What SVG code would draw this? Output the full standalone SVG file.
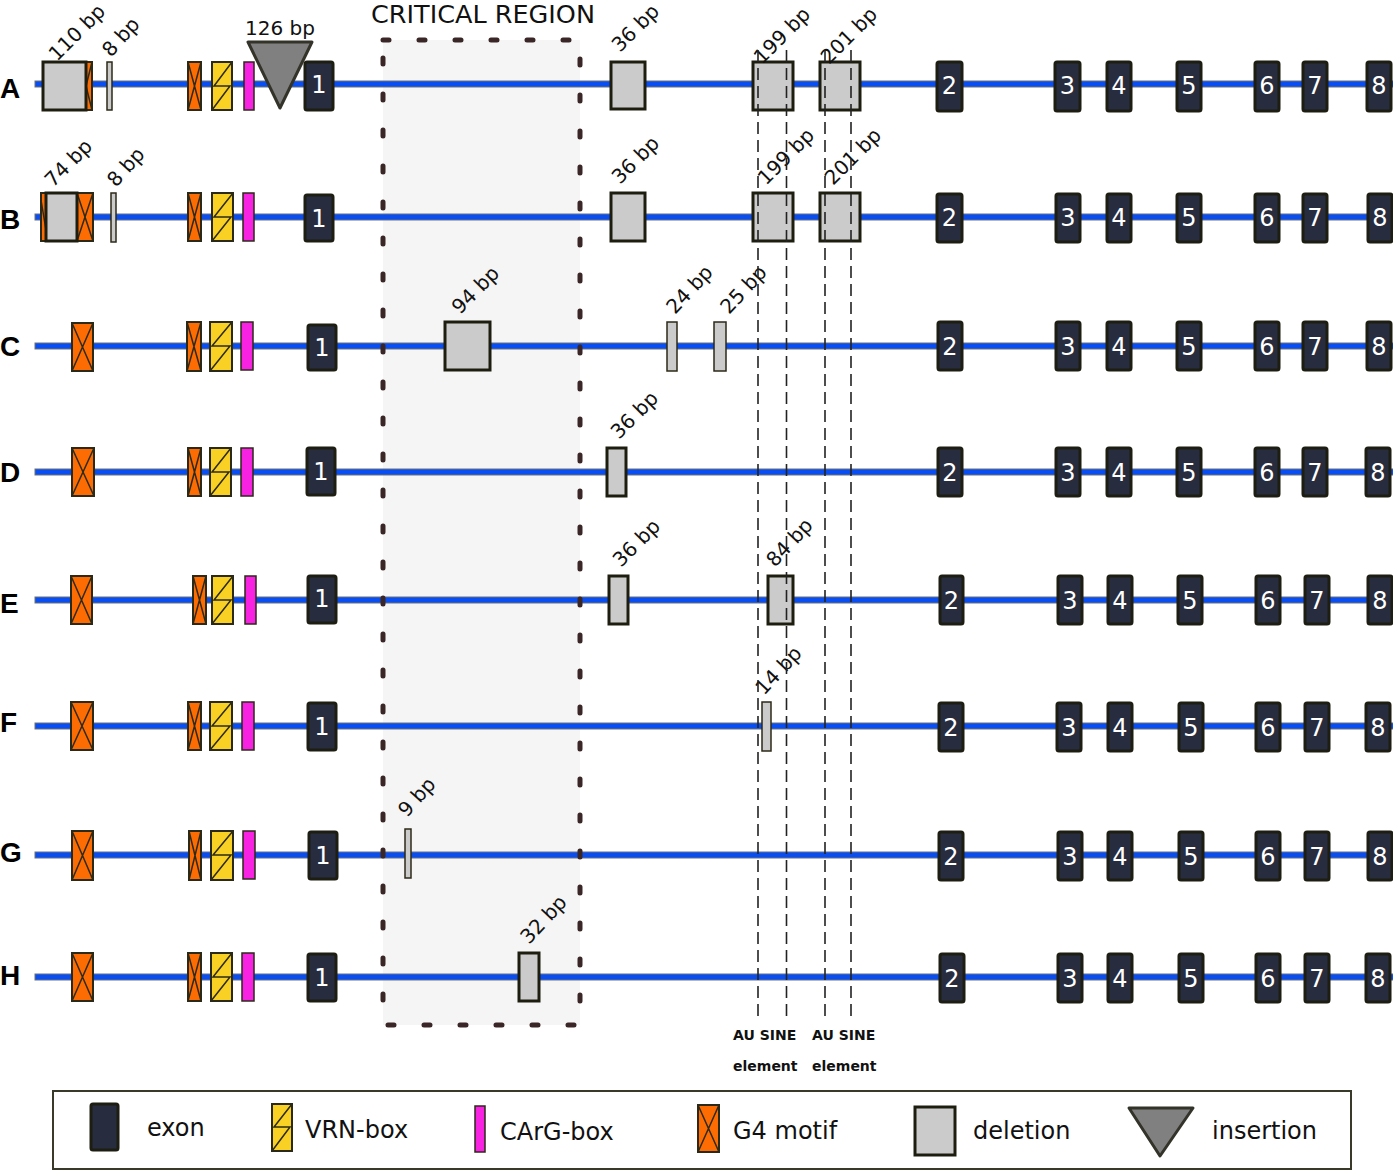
<svg xmlns="http://www.w3.org/2000/svg" width="1393" height="1171" viewBox="0 0 1393 1171">
<style>
.line{fill:#0a4ef2;stroke:#6a707a;stroke-width:1}
.exon{fill:#272c3e;stroke:#1d1d12;stroke-width:3}
.num{fill:#fff;font-family:"DejaVu Sans",sans-serif;font-size:24px;text-anchor:middle}
.g4{fill:#fd6c02;stroke:#2b2a18;stroke-width:2}
.xl{stroke:#2b2a18;stroke-width:1.5;fill:none}
.vrn{fill:#f9d024;stroke:#2b2a18;stroke-width:2}
.carg{fill:#f822e2;stroke:#2b2a18;stroke-width:1.5}
.del{fill:#cbcbcb;stroke:#1e1e10;stroke-width:3}
.dels{fill:#cbcbcb;stroke:#2b2a18;stroke-width:1.5}
.ins{fill:#808080;stroke:#333329;stroke-width:3;stroke-linejoin:round}
.lbl{font-family:"DejaVu Sans",sans-serif;font-size:20px;fill:#111}
.row{font-family:"Liberation Sans",Arial,sans-serif;font-weight:bold;font-size:28px;fill:#000}
.leg{font-family:"DejaVu Sans",sans-serif;font-size:24px;fill:#111}
.au{font-family:"DejaVu Sans",sans-serif;font-weight:bold;font-size:14px;fill:#111}
.vdash{stroke:#222;stroke-width:1.6;stroke-dasharray:12 6;fill:none}
</style>

<!-- critical region background -->
<g id="critical-region">
<rect x="383" y="40" width="197" height="985" fill="#f5f5f5"/>
<text x="483" y="23" text-anchor="middle" font-family="DejaVu Sans, sans-serif" font-size="25.5" fill="#111">CRITICAL REGION</text>
</g>

<!-- backbone lines -->
<g id="backbones">
<rect class="line" x="35" y="81" width="1360" height="6"/>
<rect class="line" x="35" y="214" width="1360" height="6"/>
<rect class="line" x="35" y="343" width="1360" height="6"/>
<rect class="line" x="35" y="469" width="1360" height="6"/>
<rect class="line" x="35" y="597" width="1360" height="6"/>
<rect class="line" x="35" y="723" width="1360" height="6"/>
<rect class="line" x="35" y="852" width="1360" height="6"/>
<rect class="line" x="35" y="974" width="1360" height="6"/>
</g>

<rect id="critical-border" x="383" y="40" width="197" height="985" fill="none" stroke="#3a2626" stroke-width="5" stroke-linecap="round" stroke-dasharray="6 30"/>

<!-- row labels -->
<g id="row-labels">
<text class="row" x="0" y="98">A</text>
<text class="row" x="0" y="229">B</text>
<text class="row" x="0" y="356">C</text>
<text class="row" x="0" y="482">D</text>
<text class="row" x="0" y="613">E</text>
<text class="row" x="0" y="732">F</text>
<text class="row" x="0" y="862">G</text>
<text class="row" x="0" y="985">H</text>
</g>

<!-- ROW A -->
<g id="rowA">
<g id="A-del110"><rect class="g4" x="80" y="62" width="12" height="48"/><path class="xl" d="M80,62 L92,110 M92,62 L80,110"/><rect class="del" x="43" y="62" width="43" height="48"/></g>
<g id="A-del8"><rect class="dels" x="107" y="62" width="5" height="48"/></g>
<g id="A-g4"><rect class="g4" x="188" y="62" width="13" height="48"/><path class="xl" d="M188,62 L201,110 M201,62 L188,110"/></g>
<g id="A-vrn"><rect class="vrn" x="212" y="62" width="20" height="48"/><path class="xl" d="M232,62 L214,86 L230,86 L212,110"/></g>
<g id="A-carg"><rect class="carg" x="244" y="62" width="10" height="48"/></g>
<g id="A-ins126"><polygon class="ins" points="248,42 312,42 280,108"/></g>
<g id="A-exon1"><rect class="exon" x="305" y="62" width="28" height="48" rx="2"/><text class="num" x="319" y="93">1</text></g>
<g id="A-del36"><rect class="del" x="611" y="62" width="34" height="47"/></g>
<g id="A-del199"><rect class="del" x="753" y="62" width="40" height="48"/></g>
<g id="A-del201"><rect class="del" x="820" y="62" width="40" height="48"/></g>
<g id="A-exon2"><rect class="exon" x="937" y="62" width="25" height="49" rx="2"/><text class="num" x="949.5" y="94">2</text></g>
<g id="A-exon3"><rect class="exon" x="1055" y="62" width="25" height="49" rx="2"/><text class="num" x="1067.5" y="94">3</text></g>
<g id="A-exon4"><rect class="exon" x="1107" y="62" width="24" height="49" rx="2"/><text class="num" x="1119" y="94">4</text></g>
<g id="A-exon5"><rect class="exon" x="1177" y="62" width="24" height="49" rx="2"/><text class="num" x="1189" y="94">5</text></g>
<g id="A-exon6"><rect class="exon" x="1255" y="62" width="24" height="49" rx="2"/><text class="num" x="1267" y="94">6</text></g>
<g id="A-exon7"><rect class="exon" x="1303" y="62" width="24" height="49" rx="2"/><text class="num" x="1315" y="94">7</text></g>
<g id="A-exon8"><rect class="exon" x="1367" y="62" width="24" height="49" rx="2"/><text class="num" x="1379" y="94">8</text></g>
<text class="lbl" transform="translate(57,62) rotate(-45)">110 bp</text>
<text class="lbl" transform="translate(111,58) rotate(-48)">8 bp</text>
<text class="lbl" x="280" y="35" text-anchor="middle">126 bp</text>
<text class="lbl" transform="translate(620,53) rotate(-45)">36 bp</text>
<text class="lbl" transform="translate(762,65) rotate(-45)" font-size="18.5">199 bp</text>
<text class="lbl" transform="translate(829,65) rotate(-45)" font-size="18.5">201 bp</text>
</g>

<!-- ROW B -->
<g id="rowB">
<g id="B-del74"><rect class="g4" x="41" y="193" width="52" height="48"/><path class="xl" d="M41,200 L47,236 M77,193 L93,241 M93,193 L77,241"/><rect class="del" x="46" y="193" width="31" height="48"/></g>
<g id="B-del8"><rect class="dels" x="111" y="193" width="5" height="49"/></g>
<g id="B-g4"><rect class="g4" x="188" y="193" width="13" height="48"/><path class="xl" d="M188,193 L201,241 M201,193 L188,241"/></g>
<g id="B-vrn"><rect class="vrn" x="212" y="193" width="21" height="48"/><path class="xl" d="M233,193 L214,217 L231,217 L212,241"/></g>
<g id="B-carg"><rect class="carg" x="243" y="193" width="11" height="48"/></g>
<g id="B-exon1"><rect class="exon" x="305" y="195" width="28" height="46" rx="2"/><text class="num" x="319" y="227">1</text></g>
<g id="B-del36"><rect class="del" x="611" y="193" width="34" height="48"/></g>
<g id="B-del199"><rect class="del" x="753" y="193" width="40" height="48"/></g>
<g id="B-del201"><rect class="del" x="820" y="193" width="40" height="48"/></g>
<g id="B-exon2"><rect class="exon" x="937" y="194" width="25" height="48" rx="2"/><text class="num" x="949.5" y="226">2</text></g>
<g id="B-exon3"><rect class="exon" x="1056" y="194" width="24" height="48" rx="2"/><text class="num" x="1068" y="226">3</text></g>
<g id="B-exon4"><rect class="exon" x="1107" y="194" width="24" height="48" rx="2"/><text class="num" x="1119" y="226">4</text></g>
<g id="B-exon5"><rect class="exon" x="1177" y="194" width="24" height="48" rx="2"/><text class="num" x="1189" y="226">5</text></g>
<g id="B-exon6"><rect class="exon" x="1255" y="194" width="24" height="48" rx="2"/><text class="num" x="1267" y="226">6</text></g>
<g id="B-exon7"><rect class="exon" x="1303" y="194" width="24" height="48" rx="2"/><text class="num" x="1315" y="226">7</text></g>
<g id="B-exon8"><rect class="exon" x="1368" y="194" width="24" height="48" rx="2"/><text class="num" x="1380" y="226">8</text></g>
<text class="lbl" transform="translate(53,188) rotate(-45)">74 bp</text>
<text class="lbl" transform="translate(116,188) rotate(-48)">8 bp</text>
<text class="lbl" transform="translate(620,185) rotate(-45)">36 bp</text>
<text class="lbl" transform="translate(766,186) rotate(-45)">199 bp</text>
<text class="lbl" transform="translate(833,186) rotate(-45)">201 bp</text>
</g>

<!-- ROW C -->
<g id="rowC">
<g id="C-g4a"><rect class="g4" x="72" y="323" width="21" height="48"/><path class="xl" d="M72,323 L93,371 M93,323 L72,371"/></g>
<g id="C-g4"><rect class="g4" x="187" y="322" width="14" height="49"/><path class="xl" d="M187,322 L201,371 M201,322 L187,371"/></g>
<g id="C-vrn"><rect class="vrn" x="210" y="322" width="22" height="49"/><path class="xl" d="M232,322 L212,346 L230,346 L210,371"/></g>
<g id="C-carg"><rect class="carg" x="241" y="322" width="12" height="48"/></g>
<g id="C-exon1"><rect class="exon" x="308" y="325" width="28" height="45" rx="2"/><text class="num" x="322" y="356">1</text></g>
<g id="C-del94"><rect class="del" x="445" y="322" width="45" height="48"/></g>
<g id="C-del24"><rect class="dels" x="667" y="322" width="10" height="49"/></g>
<g id="C-del25"><rect class="dels" x="714" y="322" width="12" height="49"/></g>
<g id="C-exon2"><rect class="exon" x="938" y="322" width="24" height="48" rx="2"/><text class="num" x="950" y="355">2</text></g>
<g id="C-exon3"><rect class="exon" x="1056" y="322" width="24" height="48" rx="2"/><text class="num" x="1068" y="355">3</text></g>
<g id="C-exon4"><rect class="exon" x="1107" y="322" width="24" height="48" rx="2"/><text class="num" x="1119" y="355">4</text></g>
<g id="C-exon5"><rect class="exon" x="1177" y="322" width="24" height="48" rx="2"/><text class="num" x="1189" y="355">5</text></g>
<g id="C-exon6"><rect class="exon" x="1255" y="322" width="24" height="48" rx="2"/><text class="num" x="1267" y="355">6</text></g>
<g id="C-exon7"><rect class="exon" x="1303" y="322" width="24" height="48" rx="2"/><text class="num" x="1315" y="355">7</text></g>
<g id="C-exon8"><rect class="exon" x="1367" y="322" width="24" height="48" rx="2"/><text class="num" x="1379" y="355">8</text></g>
<text class="lbl" transform="translate(460,315) rotate(-45)">94 bp</text>
<text class="lbl" transform="translate(675,315) rotate(-47)">24 bp</text>
<text class="lbl" transform="translate(729,315) rotate(-47)">25 bp</text>
</g>

<!-- ROW D -->
<g id="rowD">
<g id="D-g4a"><rect class="g4" x="72" y="448" width="22" height="48"/><path class="xl" d="M72,448 L94,496 M94,448 L72,496"/></g>
<g id="D-g4"><rect class="g4" x="188" y="448" width="13" height="48"/><path class="xl" d="M188,448 L201,496 M201,448 L188,496"/></g>
<g id="D-vrn"><rect class="vrn" x="210" y="448" width="21" height="48"/><path class="xl" d="M231,448 L212,472 L229,472 L210,496"/></g>
<g id="D-carg"><rect class="carg" x="241" y="448" width="12" height="48"/></g>
<g id="D-exon1"><rect class="exon" x="307" y="448" width="28" height="47" rx="2"/><text class="num" x="321" y="480">1</text></g>
<g id="D-del36"><rect class="del" x="607" y="448" width="19" height="48"/></g>
<g id="D-exon2"><rect class="exon" x="938" y="448" width="24" height="48" rx="2"/><text class="num" x="950" y="481">2</text></g>
<g id="D-exon3"><rect class="exon" x="1056" y="448" width="24" height="48" rx="2"/><text class="num" x="1068" y="481">3</text></g>
<g id="D-exon4"><rect class="exon" x="1107" y="448" width="24" height="48" rx="2"/><text class="num" x="1119" y="481">4</text></g>
<g id="D-exon5"><rect class="exon" x="1177" y="448" width="24" height="48" rx="2"/><text class="num" x="1189" y="481">5</text></g>
<g id="D-exon6"><rect class="exon" x="1255" y="448" width="24" height="48" rx="2"/><text class="num" x="1267" y="481">6</text></g>
<g id="D-exon7"><rect class="exon" x="1303" y="448" width="24" height="48" rx="2"/><text class="num" x="1315" y="481">7</text></g>
<g id="D-exon8"><rect class="exon" x="1366" y="448" width="24" height="48" rx="2"/><text class="num" x="1378" y="481">8</text></g>
<text class="lbl" transform="translate(619,440) rotate(-45)">36 bp</text>
</g>

<!-- ROW E -->
<g id="rowE">
<g id="E-g4a"><rect class="g4" x="71" y="576" width="21" height="48"/><path class="xl" d="M71,576 L92,624 M92,576 L71,624"/></g>
<g id="E-g4"><rect class="g4" x="193" y="576" width="13" height="48"/><path class="xl" d="M193,576 L206,624 M206,576 L193,624"/></g>
<g id="E-vrn"><rect class="vrn" x="212" y="576" width="21" height="48"/><path class="xl" d="M233,576 L214,600 L231,600 L212,624"/></g>
<g id="E-carg"><rect class="carg" x="245" y="576" width="11" height="48"/></g>
<g id="E-exon1"><rect class="exon" x="308" y="576" width="28" height="47" rx="2"/><text class="num" x="322" y="607">1</text></g>
<g id="E-del36"><rect class="del" x="609" y="576" width="19" height="48"/></g>
<g id="E-del84"><rect class="del" x="768" y="576" width="25" height="48"/></g>
<g id="E-exon2"><rect class="exon" x="940" y="576" width="23" height="48" rx="2"/><text class="num" x="951.5" y="609">2</text></g>
<g id="E-exon3"><rect class="exon" x="1058" y="576" width="24" height="48" rx="2"/><text class="num" x="1070" y="609">3</text></g>
<g id="E-exon4"><rect class="exon" x="1108" y="576" width="24" height="48" rx="2"/><text class="num" x="1120" y="609">4</text></g>
<g id="E-exon5"><rect class="exon" x="1178" y="576" width="24" height="48" rx="2"/><text class="num" x="1190" y="609">5</text></g>
<g id="E-exon6"><rect class="exon" x="1256" y="576" width="24" height="48" rx="2"/><text class="num" x="1268" y="609">6</text></g>
<g id="E-exon7"><rect class="exon" x="1305" y="576" width="24" height="48" rx="2"/><text class="num" x="1317" y="609">7</text></g>
<g id="E-exon8"><rect class="exon" x="1368" y="576" width="24" height="48" rx="2"/><text class="num" x="1380" y="609">8</text></g>
<text class="lbl" transform="translate(621,568) rotate(-45)">36 bp</text>
<text class="lbl" transform="translate(775,568) rotate(-47)">84 bp</text>
</g>

<!-- ROW F -->
<g id="rowF">
<g id="F-g4a"><rect class="g4" x="71" y="702" width="22" height="48"/><path class="xl" d="M71,702 L93,750 M93,702 L71,750"/></g>
<g id="F-g4"><rect class="g4" x="188" y="702" width="13" height="48"/><path class="xl" d="M188,702 L201,750 M201,702 L188,750"/></g>
<g id="F-vrn"><rect class="vrn" x="210" y="702" width="22" height="48"/><path class="xl" d="M232,702 L212,726 L230,726 L210,750"/></g>
<g id="F-carg"><rect class="carg" x="242" y="702" width="12" height="48"/></g>
<g id="F-exon1"><rect class="exon" x="308" y="703" width="28" height="47" rx="2"/><text class="num" x="322" y="735">1</text></g>
<g id="F-del14"><rect class="dels" x="762" y="702" width="9" height="49"/></g>
<g id="F-exon2"><rect class="exon" x="939" y="703" width="24" height="48" rx="2"/><text class="num" x="951" y="736">2</text></g>
<g id="F-exon3"><rect class="exon" x="1057" y="703" width="24" height="48" rx="2"/><text class="num" x="1069" y="736">3</text></g>
<g id="F-exon4"><rect class="exon" x="1108" y="703" width="24" height="48" rx="2"/><text class="num" x="1120" y="736">4</text></g>
<g id="F-exon5"><rect class="exon" x="1179" y="703" width="24" height="48" rx="2"/><text class="num" x="1191" y="736">5</text></g>
<g id="F-exon6"><rect class="exon" x="1256" y="703" width="24" height="48" rx="2"/><text class="num" x="1268" y="736">6</text></g>
<g id="F-exon7"><rect class="exon" x="1305" y="703" width="24" height="48" rx="2"/><text class="num" x="1317" y="736">7</text></g>
<g id="F-exon8"><rect class="exon" x="1366" y="703" width="24" height="48" rx="2"/><text class="num" x="1378" y="736">8</text></g>
<text class="lbl" transform="translate(764,696) rotate(-47)">14 bp</text>
</g>

<!-- ROW G -->
<g id="rowG">
<g id="G-g4a"><rect class="g4" x="72" y="831" width="21" height="49"/><path class="xl" d="M72,831 L93,880 M93,831 L72,880"/></g>
<g id="G-g4"><rect class="g4" x="189" y="831" width="12" height="49"/><path class="xl" d="M189,831 L201,880 M201,831 L189,880"/></g>
<g id="G-vrn"><rect class="vrn" x="211" y="831" width="22" height="49"/><path class="xl" d="M233,831 L213,855 L231,855 L211,880"/></g>
<g id="G-carg"><rect class="carg" x="243" y="831" width="12" height="48"/></g>
<g id="G-exon1"><rect class="exon" x="309" y="832" width="28" height="47" rx="2"/><text class="num" x="323" y="864">1</text></g>
<g id="G-del9"><rect class="dels" x="405" y="829" width="6" height="49"/></g>
<g id="G-exon2"><rect class="exon" x="939" y="832" width="24" height="48" rx="2"/><text class="num" x="951" y="865">2</text></g>
<g id="G-exon3"><rect class="exon" x="1058" y="832" width="24" height="48" rx="2"/><text class="num" x="1070" y="865">3</text></g>
<g id="G-exon4"><rect class="exon" x="1108" y="832" width="24" height="48" rx="2"/><text class="num" x="1120" y="865">4</text></g>
<g id="G-exon5"><rect class="exon" x="1179" y="832" width="24" height="48" rx="2"/><text class="num" x="1191" y="865">5</text></g>
<g id="G-exon6"><rect class="exon" x="1256" y="832" width="24" height="48" rx="2"/><text class="num" x="1268" y="865">6</text></g>
<g id="G-exon7"><rect class="exon" x="1305" y="832" width="24" height="48" rx="2"/><text class="num" x="1317" y="865">7</text></g>
<g id="G-exon8"><rect class="exon" x="1368" y="832" width="24" height="48" rx="2"/><text class="num" x="1380" y="865">8</text></g>
<text class="lbl" transform="translate(407,818) rotate(-48)">9 bp</text>
</g>

<!-- ROW H -->
<g id="rowH">
<g id="H-g4a"><rect class="g4" x="72" y="953" width="21" height="48"/><path class="xl" d="M72,953 L93,1001 M93,953 L72,1001"/></g>
<g id="H-g4"><rect class="g4" x="188" y="953" width="13" height="48"/><path class="xl" d="M188,953 L201,1001 M201,953 L188,1001"/></g>
<g id="H-vrn"><rect class="vrn" x="211" y="953" width="21" height="48"/><path class="xl" d="M232,953 L213,977 L230,977 L211,1001"/></g>
<g id="H-carg"><rect class="carg" x="242" y="953" width="12" height="48"/></g>
<g id="H-exon1"><rect class="exon" x="308" y="954" width="28" height="47" rx="2"/><text class="num" x="322" y="986">1</text></g>
<g id="H-del32"><rect class="del" x="519" y="953" width="20" height="48"/></g>
<g id="H-exon2"><rect class="exon" x="940" y="954" width="24" height="48" rx="2"/><text class="num" x="952" y="987">2</text></g>
<g id="H-exon3"><rect class="exon" x="1058" y="954" width="24" height="48" rx="2"/><text class="num" x="1070" y="987">3</text></g>
<g id="H-exon4"><rect class="exon" x="1108" y="954" width="24" height="48" rx="2"/><text class="num" x="1120" y="987">4</text></g>
<g id="H-exon5"><rect class="exon" x="1179" y="954" width="24" height="48" rx="2"/><text class="num" x="1191" y="987">5</text></g>
<g id="H-exon6"><rect class="exon" x="1256" y="954" width="24" height="48" rx="2"/><text class="num" x="1268" y="987">6</text></g>
<g id="H-exon7"><rect class="exon" x="1305" y="954" width="24" height="48" rx="2"/><text class="num" x="1317" y="987">7</text></g>
<g id="H-exon8"><rect class="exon" x="1366" y="954" width="24" height="48" rx="2"/><text class="num" x="1378" y="987">8</text></g>
<text class="lbl" transform="translate(529,945) rotate(-47)">32 bp</text>
</g>

<!-- AU SINE element boundaries -->
<g id="connectors">
<line class="vdash" x1="758" y1="50" x2="758" y2="1018" stroke="#3a2a2a"/>
<line class="vdash" x1="786.5" y1="50" x2="786.5" y2="1018"/>
<line class="vdash" x1="825" y1="50" x2="825" y2="1018"/>
<line class="vdash" x1="851" y1="50" x2="851" y2="1018"/>
</g>
<g id="au-sine-labels">
<text class="au" x="733" y="1040">AU SINE</text>
<text class="au" x="733" y="1071">element</text>
<text class="au" x="812" y="1040">AU SINE</text>
<text class="au" x="812" y="1071">element</text>
</g>

<!-- Legend -->
<g id="legend">
<rect x="53" y="1091" width="1298" height="78" fill="#fff" stroke="#3a3a2a" stroke-width="2"/>
<g id="leg-exon"><rect class="exon" x="91" y="1104" width="27" height="46" rx="2"/><text class="leg" x="147" y="1136">exon</text></g>
<g id="leg-vrn"><rect class="vrn" x="272" y="1104" width="20" height="47"/><path class="xl" d="M292,1104 L274,1127 L290,1127 L272,1151"/><text class="leg" x="305" y="1138">VRN-box</text></g>
<g id="leg-carg"><rect class="carg" x="475" y="1106" width="10" height="46"/><text class="leg" x="500" y="1140">CArG-box</text></g>
<g id="leg-g4"><rect class="g4" x="698" y="1105" width="21" height="47"/><path class="xl" d="M698,1105 L719,1152 M719,1105 L698,1152"/><text class="leg" x="733" y="1139">G4 motif</text></g>
<g id="leg-del"><rect class="del" x="915" y="1107" width="40" height="48"/><text class="leg" x="973" y="1139">deletion</text></g>
<g id="leg-ins"><polygon class="ins" points="1129,1108 1193,1108 1160,1156"/><text class="leg" x="1212" y="1139">insertion</text></g>
</g>
</svg>
